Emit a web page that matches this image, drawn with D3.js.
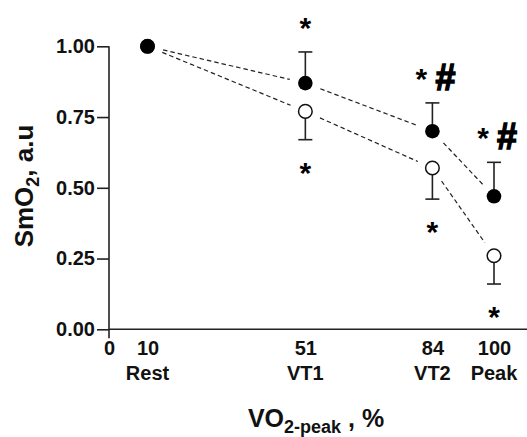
<!DOCTYPE html>
<html lang="en">
<head>
  <meta charset="UTF-8">
  <title>SmO2 vs VO2-peak</title>
  <script src="https://d3js.org/d3.v7.min.js"></script>
  <style>
    body { margin: 0; background: #fff; }
    svg { display: block; font-family: "Liberation Sans", Arial, sans-serif; }
    .axis text { font-size: 20px; font-weight: bold; fill: #111; }
    .axis line, .axis path { stroke: #222; stroke-width: 1.6px; }
    .link { fill: none; stroke: #222; stroke-width: 1.2px; stroke-dasharray: 4.5 3; }
    .err { stroke: #222; stroke-width: 1.6px; }
    .mark { font-weight: bold; font-size: 30px; fill: #000; }
    .hash { font-weight: bold; font-size: 36px; fill: #000; stroke: #000; stroke-width: 1.4px; }
  </style>
</head>
<body>
<svg width="527" height="437"></svg>
<script>
// x positions (% of VO2-peak) and stage names
const xValues = [10, 51, 84, 100];
const stages = ["Rest", "VT1", "VT2", "Peak"];

// filled circles: mean and upper error
const filledMean = [1.00, 0.87, 0.70, 0.47];
const filledErr  = [0.00, 0.11, 0.10, 0.12];

// open circles: mean and lower error
const openMean = [1.00, 0.77, 0.57, 0.26];
const openErr  = [0.00, 0.10, 0.11, 0.10];

// significance marks: * above filled, # next to it, * below open
const starAbove = [false, true, true, true];
const hashAbove = [false, false, true, true];
const starBelow = [false, true, true, true];

const yTicks = [0, 0.25, 0.5, 0.75, 1.0];

const svg = d3.select("svg");
const W = 527;

const x = d3.scaleLinear().domain([0, 100]).range([109, 494]);
const y = d3.scaleLinear().domain([0, 1]).range([329.3, 46.3]);

// y axis
const yAxis = svg.append("g")
  .attr("class", "axis")
  .attr("transform", `translate(${x(0)},0)`)
  .call(d3.axisLeft(y).tickValues(yTicks).tickFormat(d3.format(".2f")).tickSize(12).tickPadding(2));
yAxis.select(".domain").attr("d", `M0,${y(1)}V${y(0) + 9}`);

// x axis
const xAxis = svg.append("g")
  .attr("class", "axis")
  .attr("transform", `translate(0,${y(0)})`)
  .call(d3.axisBottom(x).tickValues([0].concat(xValues)).tickSize(0).tickPadding(8));
xAxis.select(".domain").attr("d", `M${x(0)},0H${W}`);
xAxis.selectAll(".tick text").attr("dy", "0.9em");

// stage names under the numbers
svg.append("g")
  .selectAll("text")
  .data(xValues)
  .join("text")
  .attr("x", d => x(d))
  .attr("y", y(0) + 51)
  .attr("text-anchor", "middle")
  .style("font-size", "20px").style("font-weight", "bold").attr("fill", "#111")
  .text((d, i) => stages[i]);

// axis titles
const yt = svg.append("text")
  .attr("transform", `translate(33,186) rotate(-90)`)
  .attr("text-anchor", "middle")
  .style("font-size", "26px").style("font-weight", "bold").attr("fill", "#111");
yt.append("tspan").text("SmO");
yt.append("tspan").attr("dy", 6).style("font-size", "18px").text("2");
yt.append("tspan").attr("dy", -6).text(", a.u");

const xt = svg.append("text")
  .attr("x", 316).attr("y", 427)
  .attr("text-anchor", "middle")
  .style("font-size", "25px").style("font-weight", "bold").attr("fill", "#111");
xt.append("tspan").text("VO");
xt.append("tspan").attr("dy", 6).style("font-size", "18px").text("2-peak");
xt.append("tspan").attr("dy", -6).text(" , %");

// dashed connecting lines, trimmed near the markers
function segments(means) {
  const segs = [];
  for (let i = 0; i < means.length - 1; i++) {
    const x1 = x(xValues[i]), y1 = y(means[i]);
    const x2 = x(xValues[i + 1]), y2 = y(means[i + 1]);
    const len = Math.hypot(x2 - x1, y2 - y1);
    const ux = (x2 - x1) / len, uy = (y2 - y1) / len;
    const gap = 16;
    segs.push([x1 + ux * gap, y1 + uy * gap, x2 - ux * gap, y2 - uy * gap]);
  }
  return segs;
}
svg.append("g")
  .selectAll("line")
  .data(segments(filledMean).concat(segments(openMean)))
  .join("line")
  .attr("class", "link")
  .attr("x1", d => d[0]).attr("y1", d => d[1])
  .attr("x2", d => d[2]).attr("y2", d => d[3]);

// error bars (up for filled, down for open)
const cap = 7;
function errorBars(means, errs, sign) {
  const g = svg.append("g");
  const data = xValues.map((v, i) => ({ x: v, m: means[i], e: errs[i] })).filter(d => d.e > 0);
  g.selectAll(".stem").data(data).join("line")
    .attr("class", "err")
    .attr("x1", d => x(d.x)).attr("x2", d => x(d.x))
    .attr("y1", d => y(d.m)).attr("y2", d => y(d.m + sign * d.e));
  g.selectAll(".cap").data(data).join("line")
    .attr("class", "err")
    .attr("x1", d => x(d.x) - cap).attr("x2", d => x(d.x) + cap)
    .attr("y1", d => y(d.m + sign * d.e)).attr("y2", d => y(d.m + sign * d.e));
}
errorBars(filledMean, filledErr, 1);
errorBars(openMean, openErr, -1);

// markers
svg.append("g")
  .selectAll("circle")
  .data(xValues.map((v, i) => [v, openMean[i]]))
  .join("circle")
  .attr("cx", d => x(d[0])).attr("cy", d => y(d[1]))
  .attr("r", 6.8)
  .attr("fill", "#fff").attr("stroke", "#111").attr("stroke-width", 1.5);
svg.append("g")
  .selectAll("circle")
  .data(xValues.map((v, i) => [v, filledMean[i]]))
  .join("circle")
  .attr("cx", d => x(d[0])).attr("cy", d => y(d[1]))
  .attr("r", 7.3)
  .attr("fill", "#000");

// significance marks
const above = xValues.map((v, i) => ({ x: v, v: filledMean[i] + filledErr[i], star: starAbove[i], hash: hashAbove[i] }));
svg.append("g")
  .selectAll("text")
  .data(above.filter(d => d.star))
  .join("text")
  .attr("class", "mark")
  .attr("x", d => x(d.x) + (d.hash ? -11 : 0))
  .attr("y", d => y(d.v) - 14)
  .attr("text-anchor", "middle")
  .text("*");
svg.append("g")
  .selectAll("text")
  .data(above.filter(d => d.hash))
  .join("text")
  .attr("class", "hash")
  .attr("x", d => x(d.x) + 13)
  .attr("y", d => y(d.v) - 13)
  .attr("text-anchor", "middle")
  .text("#");
svg.append("g")
  .selectAll("text")
  .data(xValues.map((v, i) => ({ x: v, v: openMean[i] - openErr[i], star: starBelow[i] })).filter(d => d.star))
  .join("text")
  .attr("class", "mark")
  .attr("x", d => x(d.x))
  .attr("y", d => y(d.v) + 43)
  .attr("text-anchor", "middle")
  .text("*");
</script>
</body>
</html>
